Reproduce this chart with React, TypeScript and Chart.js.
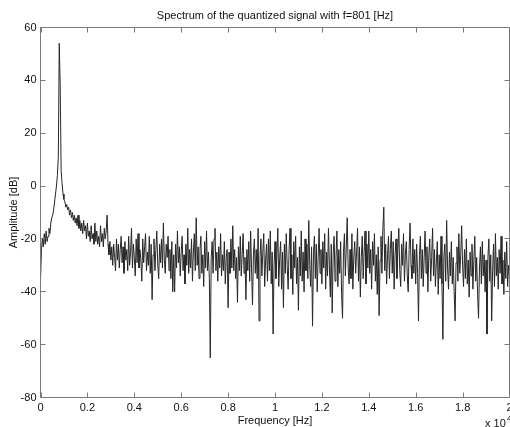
import React, { useEffect, useRef } from 'react';
import { Chart, registerables } from 'chart.js';

Chart.register(...registerables);

// Frequency bin spacing of the spectrum (Hz)
const FREQ_STEP_HZ = 40;

// Amplitude [dB] per frequency bin (0 .. 20000 Hz)
const amplitudeDb: number[] = [
  -36, -24, -20, -23, -18, -22, -17, -21, -19, -16,
  -18, -14, -12, -11, -9, -6, -3, 0, 4, 11,
  54, 38, 6, 1, -3, -5, -6, -8, -7, -9,
  -8, -11, -9, -12, -10, -13, -11, -14, -12, -15,
  -11, -16, -13, -17, -14, -18, -13, -17, -15, -20,
  -14, -19, -17, -21, -15, -20, -18, -22, -14, -21,
  -17, -22, -19, -23, -15, -21, -18, -23, -16, -20,
  -17, -11, -22, -26, -21, -28, -23, -30, -22, -27,
  -32, -20, -28, -22, -31, -24, -19, -29, -23, -33,
  -21, -28, -24, -32, -19, -30, -25, -16, -31, -22,
  -27, -34, -20, -29, -18, -31, -24, -28, -36, -20,
  -29, -23, -18, -32, -25, -30, -19, -33, -22, -43,
  -26, -20, -32, -24, -17, -30, -35, -22, -29, -20,
  -31, -14, -28, -33, -22, -27, -19, -32, -24, -35,
  -21, -40, -26, -40, -22, -31, -17, -29, -23, -34,
  -25, -19, -32, -26, -37, -22, -30, -16, -33, -24,
  -31, -20, -36, -25, -18, -32, -12, -30, -23, -35,
  -24, -19, -33, -26, -38, -21, -31, -17, -32, -25,
  -35, -65, -27, -21, -33, -20, -16, -32, -25, -36,
  -23, -31, -18, -34, -26, -32, -21, -37, -27, -24,
  -46, -25, -33, -20, -31, -15, -32, -24, -35, -27,
  -44, -23, -32, -19, -34, -26, -18, -33, -27, -43,
  -24, -32, -21, -36, -17, -31, -45, -26, -20, -33,
  -24, -35, -16, -51, -27, -20, -34, -25, -18, -38,
  -28, -22, -36, -20, -32, -17, -37, -25, -56, -30,
  -21, -35, -26, -16, -38, -27, -21, -39, -25, -46,
  -22, -33, -18, -30, -39, -24, -16, -35, -26, -41,
  -21, -31, -19, -37, -27, -47, -23, -34, -17, -36,
  -25, -40, -20, -32, -22, -35, -13, -30, -38, -23,
  -53, -26, -19, -35, -22, -40, -27, -16, -33, -24,
  -37, -21, -31, -18, -39, -25, -34, -16, -30, -42,
  -22, -48, -26, -19, -36, -27, -17, -38, -24, -33,
  -21, -41, -50, -25, -18, -34, -23, -12, -31, -37,
  -24, -35, -18, -39, -27, -21, -33, -25, -16, -36,
  -23, -42, -27, -19, -35, -25, -17, -37, -22, -31,
  -17, -33, -24, -39, -21, -30, -18, -36, -26, -41,
  -23, -49, -28, -19, -33, -16, -8, -32, -22, -37,
  -26, -19, -35, -24, -17, -33, -21, -39, -26, -20,
  -35, -24, -16, -32, -38, -22, -30, -18, -36, -26,
  -21, -34, -40, -24, -14, -30, -35, -20, -33, -24,
  -37, -22, -33, -51, -26, -19, -35, -24, -38, -27,
  -17, -33, -23, -40, -26, -20, -36, -27, -16, -34,
  -24, -38, -29, -21, -41, -26, -35, -19, -37, -58,
  -27, -22, -36, -13, -31, -39, -25, -34, -21, -37,
  -27, -40, -51, -29, -23, -36, -18, -33, -26, -15,
  -30, -38, -24, -35, -20, -37, -28, -42, -25, -34,
  -22, -39, -28, -19, -36, -27, -41, -50, -31, -23,
  -37, -21, -34, -26, -40, -28, -56, -27, -20, -36,
  -26, -51, -32, -22, -38, -18, -34, -27, -39, -24,
  -33, -19, -37, -28, -41, -25, -35, -21, -38, -30,
  -34,
];

const xTickValues = [0, 2000, 4000, 6000, 8000, 10000, 12000, 14000, 16000, 18000, 20000];
const xTickLabels = ['0', '0.2', '0.4', '0.6', '0.8', '1', '1.2', '1.4', '1.6', '1.8', '2'];
const yTickValues = [-80, -60, -40, -20, 0, 20, 40, 60];
const yTickLabels = ['-80', '-60', '-40', '-20', '0', '20', '40', '60'];

const titleText = 'Spectrum of the quantized signal with f=801 [Hz]';
const xAxisLabel = 'Frequency [Hz]';
const yAxisLabel = 'Amplitude [dB]';
const xExponentBase = 'x 10';
const xExponent = '4';

const FONT = '"Liberation Sans", Arial, Helvetica, sans-serif';
const TEXT_COLOR = '#111111';
const AXIS_COLOR = '#7a7a7a';

const framePlugin = {
  id: 'matlabFrame',
  afterDraw(chart: any) {
    const { ctx, chartArea, scales } = chart;
    const { left, right, top, bottom } = chartArea;
    const xs = scales.x;
    const ys = scales.y;
    const tick = 5;
    ctx.save();
    ctx.strokeStyle = AXIS_COLOR;
    ctx.lineWidth = 1;
    ctx.beginPath();
    ctx.rect(left, top, right - left, bottom - top);
    for (const v of xTickValues) {
      const px = Math.round(xs.getPixelForValue(v)) + 0.5;
      ctx.moveTo(px, bottom);
      ctx.lineTo(px, bottom - tick);
      ctx.moveTo(px, top);
      ctx.lineTo(px, top + tick);
    }
    for (const v of yTickValues) {
      const py = Math.round(ys.getPixelForValue(v) - 0.5) + 0.5;
      ctx.moveTo(left, py);
      ctx.lineTo(left + tick, py);
      ctx.moveTo(right, py);
      ctx.lineTo(right - tick, py);
    }
    ctx.stroke();

    ctx.fillStyle = TEXT_COLOR;
    ctx.font = `11px ${FONT}`;
    ctx.textAlign = 'center';
    ctx.textBaseline = 'middle';
    const cx = (left + right) / 2;
    ctx.fillText(titleText, cx, 15.5);
    ctx.fillText(xAxisLabel, cx, 421);

    ctx.save();
    ctx.translate(14, (top + bottom) / 2);
    ctx.rotate(-Math.PI / 2);
    ctx.fillText(yAxisLabel, 0, 0);
    ctx.restore();

    ctx.textAlign = 'left';
    ctx.fillText(xExponentBase, 485, 423.5);
    ctx.font = `8px ${FONT}`;
    ctx.fillText(xExponent, 507, 418.5);
    ctx.restore();
  },
};

export default function App() {
  const canvasRef = useRef<HTMLCanvasElement | null>(null);

  useEffect(() => {
    const canvas = canvasRef.current;
    if (!canvas) return;
    const points = amplitudeDb.map((v, i) => ({ x: i * FREQ_STEP_HZ, y: v }));
    const chart = new Chart(canvas, {
      type: 'line',
      data: {
        datasets: [
          {
            data: points,
            borderColor: '#262626',
            borderWidth: 1,
            pointRadius: 0,
            tension: 0,
            fill: false,
          },
        ],
      },
      options: {
        animation: false,
        responsive: false,
        events: [],
        layout: { padding: { top: 27.5, right: 0.5, left: 0, bottom: 0 } },
        plugins: {
          legend: { display: false },
          title: { display: false },
          tooltip: { enabled: false },
        },
        scales: {
          x: {
            type: 'linear',
            min: 0,
            max: 20000,
            grid: { display: false, drawTicks: false },
            border: { display: false },
            ticks: {
              stepSize: 2000,
              autoSkip: false,
              maxRotation: 0,
              padding: 4,
              color: TEXT_COLOR,
              font: { family: FONT, size: 11 },
              callback: (v: any) => {
                const i = xTickValues.indexOf(Number(v));
                return i >= 0 ? xTickLabels[i] : '';
              },
            },
            afterFit: (s: any) => {
              s.height = 29.5;
              s.paddingLeft = 0;
              s.paddingRight = 0;
            },
          },
          y: {
            type: 'linear',
            min: -80,
            max: 60,
            grid: { display: false, drawTicks: false },
            border: { display: false },
            ticks: {
              stepSize: 20,
              autoSkip: false,
              padding: 4,
              color: TEXT_COLOR,
              font: { family: FONT, size: 11 },
              callback: (v: any) => {
                const i = yTickValues.indexOf(Number(v));
                return i >= 0 ? yTickLabels[i] : '';
              },
            },
            afterFit: (s: any) => {
              s.width = 40.5;
              s.paddingTop = 0;
              s.paddingBottom = 0;
            },
          },
        },
      },
      plugins: [framePlugin],
    });
    return () => chart.destroy();
  }, []);

  return (
    <div style={{ position: 'fixed', left: 0, top: 0, width: 510, height: 427, background: '#fff' }}>
      <canvas ref={canvasRef} width={510} height={427} style={{ display: 'block' }} />
    </div>
  );
}
